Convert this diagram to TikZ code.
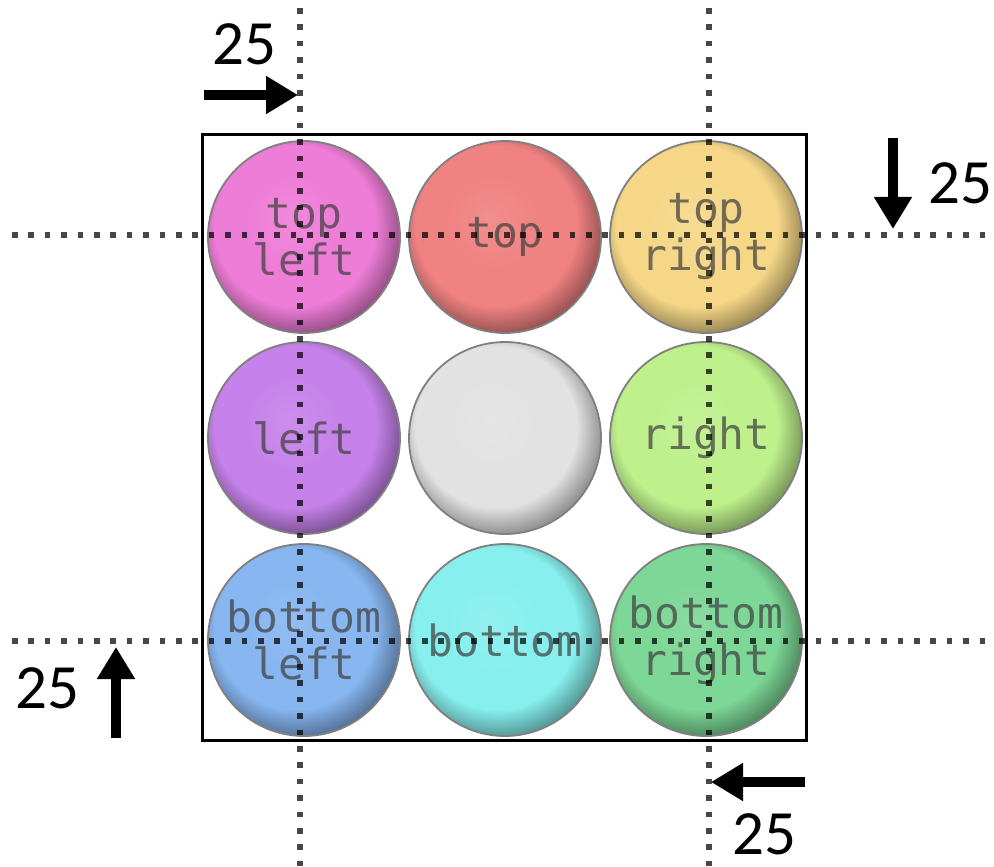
\documentclass[tikz,border=0pt]{standalone}
\usepackage{fontspec}
\newfontfamily\numfont{Carlito}
\newfontfamily\ballfont{DejaVu Sans Mono}
\usetikzlibrary{arrows.meta}
\tikzset{>=latex}
\definecolor{ballpink}{RGB}{238,125,215}
\definecolor{ballsalmon}{RGB}{240,130,130}
\definecolor{ballgold}{RGB}{245,215,135}
\definecolor{ballviolet}{RGB}{198,130,234}
\definecolor{ballgray}{RGB}{226,226,226}
\definecolor{balllime}{RGB}{190,240,140}
\definecolor{ballblue}{RGB}{135,182,240}
\definecolor{ballcyan}{RGB}{135,240,238}
\definecolor{ballgreen}{RGB}{125,215,150}
\colorlet{ballc}{gray}
\pgfdeclareradialshading[ballc]{glossy}{\pgfpoint{-4bp}{5bp}}{color(0bp)=(ballc!90!white); color(12bp)=(ballc); color(21bp)=(ballc); color(29bp)=(ballc!55!black); color(50bp)=(ballc!55!black)}
\tikzset{ball/.style={circle, inner sep=0, minimum size=96pt, draw=black!50, line width=0.9pt, align=center, font=\ballfont\fontsize{21.5pt}{23.5pt}\selectfont, text=black!75, text opacity=0.72, /utils/exec={\colorlet{ballc}{#1}}, shading=glossy}}
\tikzstyle{guide} = [draw=black, draw opacity=0.72, line width=2.8pt, dash pattern=on 2.8pt off 5.4pt]
\tikzstyle{push} = [line width=5pt, -{Triangle[length=16pt, width=18pt]}]
\tikzstyle{num} = [draw=none, inner sep=0, font=\numfont\fontsize{31.5pt}{34pt}\selectfont]

\begin{document}
\begin{tikzpicture}[x=0.5pt, y=-0.5pt]
\useasboundingbox (0, 0) rectangle (994, 866);
\node [draw, line width=1.5pt, inner sep=0, minimum width=302pt, minimum height=302.5pt] (frame) at (504, 437.5) {};
% balls
\node [ball=ballpink] (tl) at (304, 237) {top\\left};
\node [ball=ballsalmon] (tc) at (505, 237) {top};
\node [ball=ballgold] (tr) at (706, 237) {top\\right};
\node [ball=ballviolet] (ml) at (304, 438) {left};
\node [ball=ballgray] (mc) at (505, 438) {};
\node [ball=balllime] (mr) at (706, 438) {right};
\node [ball=ballblue] (bl) at (304, 640) {bottom\\left};
\node [ball=ballcyan] (bc) at (505, 640) {bottom};
\node [ball=ballgreen] (br) at (706, 640) {bottom\\right};
% guide lines
\coordinate (gl1) at (300, 8);
\coordinate (gl2) at (300, 866);
\coordinate (gr1) at (709, 8);
\coordinate (gr2) at (709, 866);
\coordinate (gt1) at (12, 235);
\coordinate (gt2) at (994, 235);
\coordinate (gb1) at (12, 641);
\coordinate (gb2) at (994, 641);
\draw [guide] (gl1) to (gl2);
\draw [guide] (gr1) to (gr2);
\draw [guide] (gt1) to (gt2);
\draw [guide] (gb1) to (gb2);
% offsets
\coordinate (a1) at (204, 95);
\coordinate (a2) at (298, 95);
\coordinate (b1) at (893, 138);
\coordinate (b2) at (893, 229);
\coordinate (c1) at (116, 738);
\coordinate (c2) at (116, 647);
\coordinate (d1) at (805, 782);
\coordinate (d2) at (711, 782);
\draw [push] (a1) to (a2);
\draw [push] (b1) to (b2);
\draw [push] (c1) to (c2);
\draw [push] (d1) to (d2);
\node [num] (na) at (244, 44) {25};
\node [num] (nb) at (960, 183) {25};
\node [num] (nc) at (47, 688) {25};
\node [num] (nd) at (764, 834) {25};
\end{tikzpicture}
\end{document}
